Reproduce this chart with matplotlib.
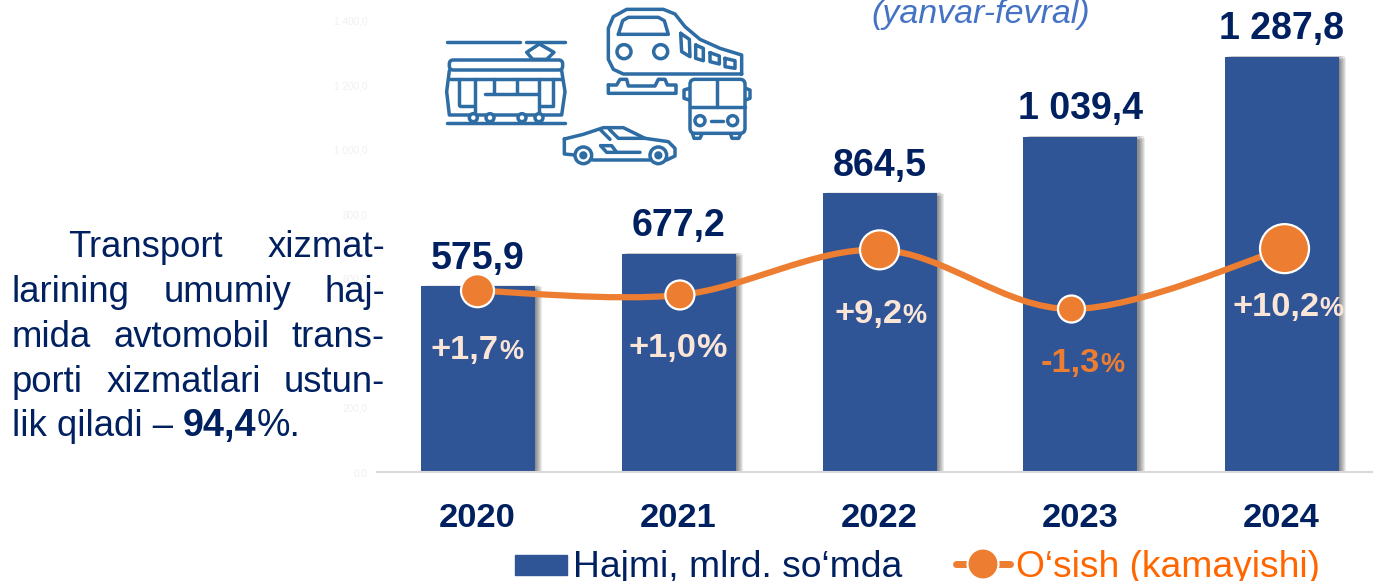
import matplotlib
matplotlib.use("Agg")
import matplotlib.pyplot as plt
import matplotlib.patheffects as pe
from matplotlib.patches import Circle, FancyBboxPatch, PathPatch, Rectangle
from matplotlib.path import Path
import numpy as np

plt.rcParams['font.family'] = ['Liberation Sans', 'DejaVu Sans']

years = ['2020', '2021', '2022', '2023', '2024']
volume = [575.9, 677.2, 864.5, 1039.4, 1287.8]
volume_labels = ['575,9', '677,2', '864,5', '1 039,4', '1 287,8']
# the orange line does not sit quite at its printed values in the picture
growth_positions = [1.7, 1.0, 8.4, -1.3, 8.6]
growth_x = [0.0, 1.007, 2.0, 2.955, 4.015]
growth_labels = ['+1,7', '+1,0', '+9,2', '-1,3', '+10,2']
y_ticks = [0, 200, 400, 600, 800, 1000, 1200, 1400]
y_tick_labels = ['0,0', '200,0', '400,0', '600,0', '800,0', '1 000,0', '1 200,0', '1 400,0']

BAR = '#2F5597'
ORANGE = '#ED7D31'
NAVY = '#002060'
CREAM = '#FBE5D6'
ICON = '#2E6CA4'

W, H = 1373, 581
fig = plt.figure(figsize=(W / 100, H / 100), dpi=100)
ax = fig.add_axes([377 / W, (H - 472) / H, (W - 377) / W, 472 / H])

shadow_offsets = [(5.4, -0.6), (4.6, 0.6), (4.0, -1.6), (3.2, 0.8), (2.4, -2.0), (1.6, 0.5), (1.0, -1.0)]
shadow = [pe.SimplePatchShadow(offset=o, shadow_rgbFace='black', alpha=0.08) for o in shadow_offsets]
ax.bar(range(5), volume, width=114 / 201, color=BAR, zorder=2,
       path_effects=shadow + [pe.Normal()])
ax.set_xlim(-0.5, -0.5 + (W - 377) / 201)
ax.set_ylim(0, 1465)
ax.set_xticks(range(5), years, fontsize=24.8, fontweight='bold', color=NAVY)
ax.set_yticks(y_ticks, y_tick_labels, fontsize=7.2, color='#F0F0F0')
ax.tick_params(axis='both', length=0)
ax.tick_params(axis='x', pad=22)
ax.tick_params(axis='y', pad=7)
for name in ('top', 'right', 'left'):
    ax.spines[name].set_visible(False)
ax.spines['bottom'].set_color('#D9D9D9')
ax.spines['bottom'].set_linewidth(1.5)
ax.patch.set_visible(False)

for i, (v, lab) in enumerate(zip(volume, volume_labels)):
    ax.annotate(lab, (i, v), xytext=(0, 7), textcoords='offset points', ha='center', va='bottom',
                fontsize=27, fontweight='bold', color=NAVY, annotation_clip=False)

# growth line, on its own scale
ax2 = ax.twinx()
ax2.set_ylim(-28.02, 49.36)
ax2.axis('off')
gx = np.array(growth_x)
gy = np.array(growth_positions)
px = np.r_[gx[0], gx, gx[-1]]
py = np.r_[gy[0], gy, gy[-1]]
verts = [(gx[0], gy[0])]
codes = [Path.MOVETO]
for i in range(1, len(px) - 2):
    verts += [(px[i] + (px[i + 1] - px[i - 1]) / 6, py[i] + (py[i + 1] - py[i - 1]) / 6),
              (px[i + 1] - (px[i + 2] - px[i]) / 6, py[i + 1] - (py[i + 2] - py[i]) / 6),
              (px[i + 1], py[i + 1])]
    codes += [Path.CURVE4] * 3
ax2.add_patch(PathPatch(Path(verts, codes), fill=False, edgecolor=ORANGE, lw=4.5, zorder=3))
marker_px = [33, 29, 39, 27, 49]
ax2.scatter(gx, gy, s=[(d * 0.72) ** 2 for d in marker_px], color=ORANGE,
            edgecolor='white', linewidth=1.6, zorder=4)

# overlay in picture pixels, for the text block, icons and legend
ov = fig.add_axes([0, 0, 1, 1])
ov.set_xlim(0, W)
ov.set_ylim(H, 0)
ov.axis('off')
renderer = fig.canvas.get_renderer()


def width_of(t):
    return t.get_window_extent(renderer).width


def run(x, y, parts, **kw):
    # parts: (string, size, weight), written one after the other on a baseline
    for s, size, weight in parts:
        t = ov.text(x, y, s, fontsize=size, fontweight=weight, va='baseline', ha='left', **kw)
        x += width_of(t)
    return x


def justify(x0, x1, y, words, size):
    items = [ov.text(0, y, w, fontsize=size, color=NAVY, va='baseline', ha='left') for w in words]
    widths = [width_of(t) for t in items]
    gap = (x1 - x0 - sum(widths)) / (len(words) - 1)
    x = x0
    for t, w in zip(items, widths):
        t.set_x(x)
        x += w + gap


TXT = 26.3
justify(68, 385, 257, ['Transport', 'xizmat-'], TXT)
justify(12, 385, 302, ['larining', 'umumiy', 'haj-'], TXT)
justify(12, 385, 347, ['mida', 'avtomobil', 'trans-'], TXT)
justify(12, 385, 392, ['porti', 'xizmatlari', 'ustun-'], TXT)
run(12, 436, [('lik qiladi – ', TXT, 'normal'), ('94,4', 27.2, 'bold'), ('%.', 27, 'normal')], color=NAVY)

ov.text(871, 23, '(yanvar-fevral)', fontsize=24.5, style='italic', color='#4472C4', va='baseline')

# growth labels over the bars
label_x = [431, 628, 834, 1041, 1232]
label_y = [359, 357, 323, 372, 316]
label_colors = [CREAM, CREAM, CREAM, ORANGE, CREAM]
pct_sizes = [19.5, 24.6, 19.5, 19.5, 19.5]
for lab, x, y, c, s in zip(growth_labels, label_x, label_y, label_colors, pct_sizes):
    run(x, y, [(lab, 24.8, 'bold'), ('%', s, 'bold')], color=c)

# legend
ov.add_patch(Rectangle((515, 555), 52, 20, color=BAR))
ov.text(573, 577, 'Hajmi, mlrd. so‘mda', fontsize=26.8, color=NAVY, va='baseline')
ov.plot([956, 1010], [564, 564], color=ORANGE, lw=5, solid_capstyle='round')
ov.add_patch(Circle((983, 564), 15.5, facecolor=ORANGE, edgecolor='white', lw=1.5, zorder=3))
ov.text(1016, 577, 'O‘sish (kamayishi)', fontsize=26.8, color='#FF6600', va='baseline')


# transport icons, traced in the coordinates of a 3x crop starting at x=330
def zx(x):
    return 330 + np.asarray(x, dtype=float) / 3


def zy(y):
    return np.asarray(y, dtype=float) / 3


ICON_LW = 2.5


def stroke(*pts, closed=False):
    pts = list(pts) + ([pts[0]] if closed else [])
    xs, ys = zip(*pts)
    ov.plot(zx(xs), zy(ys), color=ICON, lw=ICON_LW, solid_capstyle='round', solid_joinstyle='round', zorder=2)


def ring(x, y, r, face='white'):
    ov.add_patch(Circle((zx(x), zy(y)), r / 3, facecolor=face, edgecolor=ICON, lw=ICON_LW, zorder=3))


def rounded(x0, y0, x1, y1, r=4):
    ov.add_patch(FancyBboxPatch((zx(x0) + r, zy(y0) + r), (x1 - x0) / 3 - 2 * r, (y1 - y0) / 3 - 2 * r,
                                boxstyle=f'round,pad={r}', facecolor='none', edgecolor=ICON, lw=ICON_LW, zorder=2))


# tram
stroke((350, 127), (570, 127))
stroke((588, 127), (706, 127))
stroke((628, 132), (672, 157), (650, 178), (608, 178), (590, 157), closed=True)
rounded(358, 180, 698, 210)
stroke((358, 212), (350, 275), (358, 345), (695, 345), (705, 275), (695, 212))
stroke((360, 238), (695, 238))
for vx, v0, v1 in [(388, 238, 315), (434, 238, 345), (628, 238, 345), (668, 238, 315),
                   (492, 238, 280), (562, 238, 280)]:
    stroke((vx, v0), (vx, v1))
stroke((465, 282), (620, 282))
stroke((390, 318), (432, 318))
stroke((630, 318), (668, 318))
stroke((350, 370), (706, 370))
for wx in (430, 480, 576, 627):
    ring(wx, 353, 12)

# train
stroke((1235, 222), (880, 222), (850, 208), (835, 178), (835, 85), (850, 50), (890, 28), (1000, 28),
       (1035, 42), (1065, 80), (1110, 118), (1170, 145), (1235, 165), closed=True)
stroke((865, 103), (1015, 103), (1003, 62), (985, 52), (895, 52), (878, 62), closed=True)
ring(882, 155, 21)
ring(992, 155, 21)
for q in ([(1052, 100), (1078, 118), (1080, 170), (1055, 155)], [(1097, 135), (1120, 145), (1120, 182), (1097, 175)],
          [(1140, 158), (1168, 168), (1168, 192), (1140, 185)], [(1185, 175), (1215, 182), (1215, 205), (1185, 200)]):
    stroke(*q, closed=True)
stroke((835, 255), (860, 255), (870, 238), (890, 238), (895, 258), (975, 258), (985, 238), (1005, 238),
       (1012, 255), (1038, 255), (1038, 280), (835, 280), closed=True)

# bus
rounded(1080, 238, 1245, 400, r=5)
stroke((1160, 240), (1160, 320))
stroke((1080, 322), (1245, 322))
ring(1110, 362, 15)
ring(1208, 362, 15)
stroke((1142, 362), (1178, 362))
stroke((1078, 265), (1062, 270), (1062, 295), (1078, 300))
stroke((1247, 265), (1260, 270), (1260, 295), (1247, 300))
stroke((1088, 402), (1092, 415), (1110, 415), (1116, 402))
stroke((1202, 402), (1206, 415), (1226, 415), (1232, 402))

# car
stroke((703, 417), (760, 403), (820, 383), (880, 383), (945, 415), (1015, 425), (1035, 445), (1035, 468),
       (1010, 480), (790, 480), (735, 465), (703, 462), closed=True)
stroke((810, 388), (840, 418))
stroke((838, 388), (865, 415), (945, 415))
stroke((812, 437), (845, 437), (860, 457), (930, 457))
stroke((812, 437), (830, 457), (860, 457))
ring(760, 466, 25)
ring(985, 466, 25)
ring(760, 466, 7, face=ICON)
ring(985, 466, 7, face=ICON)

fig.savefig('out.png', dpi=100)
